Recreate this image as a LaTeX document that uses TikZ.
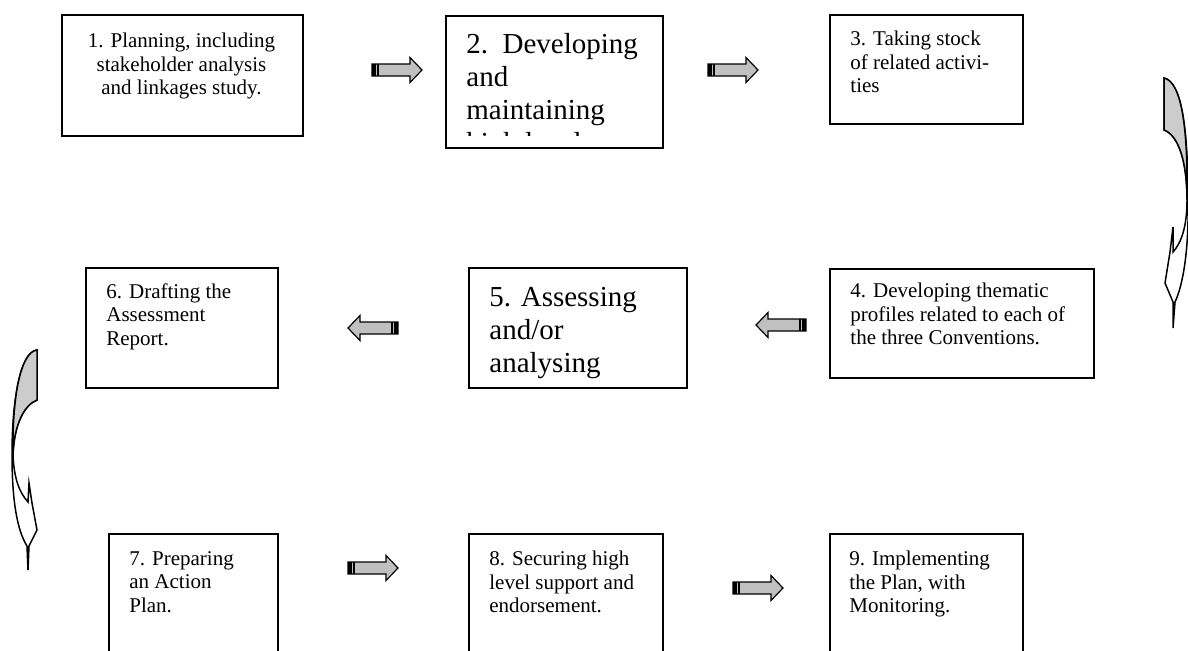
\documentclass[tikz,border=0pt]{standalone}
\usepackage{fontspec}
\setmainfont{Liberation Serif}
\definecolor{arrgray}{RGB}{192,192,192}
\definecolor{backgray}{RGB}{204,204,204}
\tikzset{
  box/.style={draw, line width=0.75pt, inner sep=0, anchor=north west},
  small/.style={font=\fontsize{10.5}{11.75}\selectfont, inner sep=0, anchor=north west, align=left},
  big/.style={font=\fontsize{14.5}{16.5}\selectfont, inner sep=0, anchor=north west, align=left},
  blockarrow/.pic={
    \draw[fill=arrgray, line width=0.6pt] (0,-6) -- (38,-6) -- (38,-12.5) -- (50,0) -- (38,12.5) -- (38,6) -- (0,6) -- cycle;
    \fill (0,-6) rectangle (4,6);
    \draw[line width=0.6pt] (6,-6) -- (6,6);
  },
  curvy/.style={draw, line width=0.75pt, line join=miter},
}
\begin{document}
\begin{tikzpicture}[x=0.5pt, y=-0.5pt]
\useasboundingbox (0,0) rectangle (1188,650);
\clip (0,0) rectangle (1188,650);
\fill[white] (0,0) rectangle (1188,650);

% boxes
\node[box, minimum width=120.5pt, minimum height=60.5pt] (b1) at (61,14) {};
\node[box, minimum width=108.5pt, minimum height=66pt] (b2) at (445,15) {};
\node[box, minimum width=96.5pt, minimum height=54.5pt] (b3) at (829,14) {};
\node[box, minimum width=132pt, minimum height=54.5pt] (b4) at (829,268) {};
\node[box, minimum width=109pt, minimum height=60pt] (b5) at (468,267) {};
\node[box, minimum width=96pt, minimum height=60pt] (b6) at (85,267) {};
\node[box, minimum width=84.5pt, minimum height=70pt] (b7) at (108,533) {};
\node[box, minimum width=97pt, minimum height=70pt] (b8) at (468,533) {};
\node[box, minimum width=96.5pt, minimum height=70pt] (b9) at (829,533) {};

% texts
\node[small, anchor=north, align=center] (t1) at (181.5,33) {1. Planning, including\\stakeholder analysis\\and linkages study.};
\begin{scope}
  \clip (446,16) rectangle (661,135);
  \node[big] (t2) at (466,33) {2.\ \ Developing\\and\\maintaining\\high level};
\end{scope}
\node[small] (t3) at (850,31) {3. Taking stock\\of related activi-\\ties};
\node[small] (t4) at (850,283) {4. Developing thematic\\profiles related to each of\\the three Conventions.};
\node[big] (t5) at (489,287) {5. Assessing\\and/or\\analysing};
\node[small] (t6) at (106,283) {6. Drafting the\\Assessment\\Report.};
\node[small] (t7) at (129,551) {7. Preparing\\an Action\\Plan.};
\node[small] (t8) at (489,551) {8. Securing high\\level support and\\endorsement.};
\node[small] (t9) at (849,551) {9. Implementing\\the Plan, with\\Monitoring.};

% block arrows
\pic at (372,70) {blockarrow};
\pic at (708,70) {blockarrow};
\pic[rotate=180] at (806,325) {blockarrow};
\pic[rotate=180] at (398,328) {blockarrow};
\pic at (348,568) {blockarrow};
\pic at (733,588) {blockarrow};

% right curved arrow
\path[curvy, fill=white] (1164,78) -- (1164,130)
  .. controls (1178,135) and (1187,160) .. (1187,200)
  .. controls (1187,225) and (1182,242) .. (1173,252)
  -- (1173,227) -- (1170,252) -- (1165,283) -- (1173,302) -- (1173,328) -- (1175,302)
  .. controls (1183,285) and (1189,250) .. (1188,200)
  .. controls (1188,130) and (1182,82) .. (1164,78) -- cycle;
\path[curvy, fill=backgray] (1164,78) -- (1164,130)
  .. controls (1178,135) and (1187,160) .. (1187,200)
  .. controls (1188,130) and (1182,82) .. (1164,78) -- cycle;

% left curved arrow
\path[curvy, fill=white] (37,350) -- (37,400)
  .. controls (24,405) and (14,425) .. (13,455)
  .. controls (14,478) and (19,492) .. (28,502)
  -- (29,483) -- (32,503) -- (37,530) -- (29,546) -- (28,570) -- (27,546)
  .. controls (17,530) and (12,500) .. (12,455)
  .. controls (12,400) and (20,352) .. (37,350) -- cycle;
\path[curvy, fill=backgray] (37,350) -- (37,400)
  .. controls (24,405) and (14,425) .. (13,455)
  .. controls (12,400) and (20,352) .. (37,350) -- cycle;
\end{tikzpicture}
\end{document}
